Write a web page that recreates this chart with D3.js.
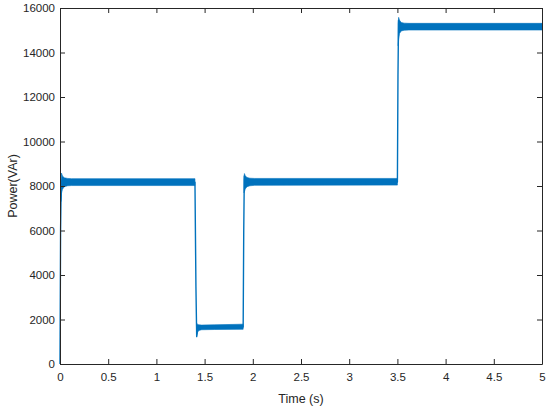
<!DOCTYPE html>
<html>
<head>
<meta charset="utf-8">
<script src="https://cdn.jsdelivr.net/npm/d3@7"></script>
<style>
  html, body { margin: 0; padding: 0; background: #fff; }
  svg { display: block; }
  text { font-family: "Liberation Sans", Arial, Helvetica, sans-serif; fill: #262626; }
</style>
</head>
<body>
<svg id="chart" width="550" height="408"></svg>
<script>
// ---- Data ----
const xTicks = [0, 0.5, 1, 1.5, 2, 2.5, 3, 3.5, 4, 4.5, 5];
const yTicks = [0, 2000, 4000, 6000, 8000, 10000, 12000, 14000, 16000];

// Thin trace through the step transitions (time in s, power in VAr)
const traceT = [0, 0.003, 0.006, 0.010, 0.016, 0.03, 1.400, 1.410, 1.418, 1.425, 1.45, 1.900, 1.906, 1.912, 1.93, 3.500, 3.506, 3.512, 3.53, 5.0];
const traceV = [0, 3000, 6000, 7300, 8050, 8170, 8170, 3500, 1230, 1500, 1640, 1660, 6000, 8450, 8200, 8180, 13000, 15450, 15170, 15160];

// Oscillation envelope of each steady segment (upper / lower)
const bandA_t  = [0.010, 0.016, 0.025, 0.045, 0.08, 0.12, 1.400];
const bandA_hi = [8200, 8580, 8450, 8370, 8340, 8330, 8330];
const bandA_lo = [7300, 7680, 7850, 7970, 8010, 8020, 8020];

const bandB_t  = [1.416, 1.420, 1.428, 1.44, 1.47, 1.60, 1.900];
const bandB_hi = [1850, 1820, 1780, 1760, 1750, 1760, 1790];
const bandB_lo = [1230, 1300, 1430, 1510, 1540, 1550, 1560];

const bandC_t  = [1.908, 1.913, 1.922, 1.94, 1.97, 2.02, 3.500];
const bandC_hi = [8300, 8560, 8460, 8380, 8350, 8340, 8340];
const bandC_lo = [7700, 7740, 7870, 7970, 8010, 8030, 8040];

const bandD_t  = [3.508, 3.513, 3.522, 3.54, 3.57, 3.62, 5.000];
const bandD_hi = [15300, 15580, 15450, 15350, 15320, 15310, 15310];
const bandD_lo = [14300, 14600, 14850, 14970, 15000, 15010, 15010];

// ---- Layout ----
const svg = d3.select("#chart");
const mLeft = 60, mRight = 542, mTop = 8, mBottom = 364;
const x = d3.scaleLinear().domain([0, 5]).range([mLeft, mRight]);
const y = d3.scaleLinear().domain([0, 16000]).range([mBottom, mTop]);
const blue = "#0072BD";
const axisColor = "#262626";

svg.append("rect").attr("width", 550).attr("height", 408).attr("fill", "#fff");

// Bands
const area = d3.area()
  .x(d => x(d.t)).y0(d => y(d.lo)).y1(d => y(d.hi));
const bands = [
  [bandA_t, bandA_hi, bandA_lo],
  [bandB_t, bandB_hi, bandB_lo],
  [bandC_t, bandC_hi, bandC_lo],
  [bandD_t, bandD_hi, bandD_lo]
];
bands.forEach(([ts, hi, lo]) => {
  const data = ts.map((t, i) => ({ t, hi: hi[i], lo: lo[i] }));
  svg.append("path").datum(data)
    .attr("d", area)
    .attr("fill", blue)
    .attr("stroke", blue)
    .attr("stroke-width", 0.6);
});

// Trace
const line = d3.line().x(d => x(d.t)).y(d => y(d.v));
svg.append("path")
  .datum(traceT.map((t, i) => ({ t, v: traceV[i] })))
  .attr("d", line)
  .attr("fill", "none")
  .attr("stroke", blue)
  .attr("stroke-width", 1.4)
  .attr("stroke-linejoin", "round");

// Axes (MATLAB style, ticks inward, box on)
function styleAxis(g) {
  g.selectAll("path.domain").attr("stroke", axisColor).attr("stroke-width", 1);
  g.selectAll(".tick line").attr("stroke", axisColor).attr("stroke-width", 1);
  g.selectAll(".tick text").attr("fill", axisColor)
    .style("font-family", '"Liberation Sans", Arial, Helvetica, sans-serif')
    .style("font-size", "11.5px");
}

const gx = svg.append("g").attr("transform", `translate(0,${mBottom})`)
  .call(d3.axisBottom(x).tickValues(xTicks).tickFormat(d3.format("~g"))
    .tickSizeInner(-5).tickSizeOuter(0).tickPadding(9));
styleAxis(gx);

const gxTop = svg.append("g").attr("transform", `translate(0,${mTop})`)
  .call(d3.axisTop(x).tickValues(xTicks).tickFormat("")
    .tickSizeInner(-5).tickSizeOuter(0));
styleAxis(gxTop);

const gy = svg.append("g").attr("transform", `translate(${mLeft},0)`)
  .call(d3.axisLeft(y).tickValues(yTicks).tickFormat(d3.format("d"))
    .tickSizeInner(-5).tickSizeOuter(0).tickPadding(5));
styleAxis(gy);

const gyR = svg.append("g").attr("transform", `translate(${mRight},0)`)
  .call(d3.axisRight(y).tickValues(yTicks).tickFormat("")
    .tickSizeInner(-5).tickSizeOuter(0));
styleAxis(gyR);

// Axis labels
svg.append("text")
  .attr("x", (mLeft + mRight) / 2).attr("y", 403)
  .attr("text-anchor", "middle")
  .style("font-size", "12.5px")
  .text("Time (s)");

svg.append("text")
  .attr("transform", `translate(17,${(mTop + mBottom) / 2}) rotate(-90)`)
  .attr("text-anchor", "middle")
  .style("font-size", "12.5px")
  .text("Power(VAr)");
</script>
</body>
</html>
